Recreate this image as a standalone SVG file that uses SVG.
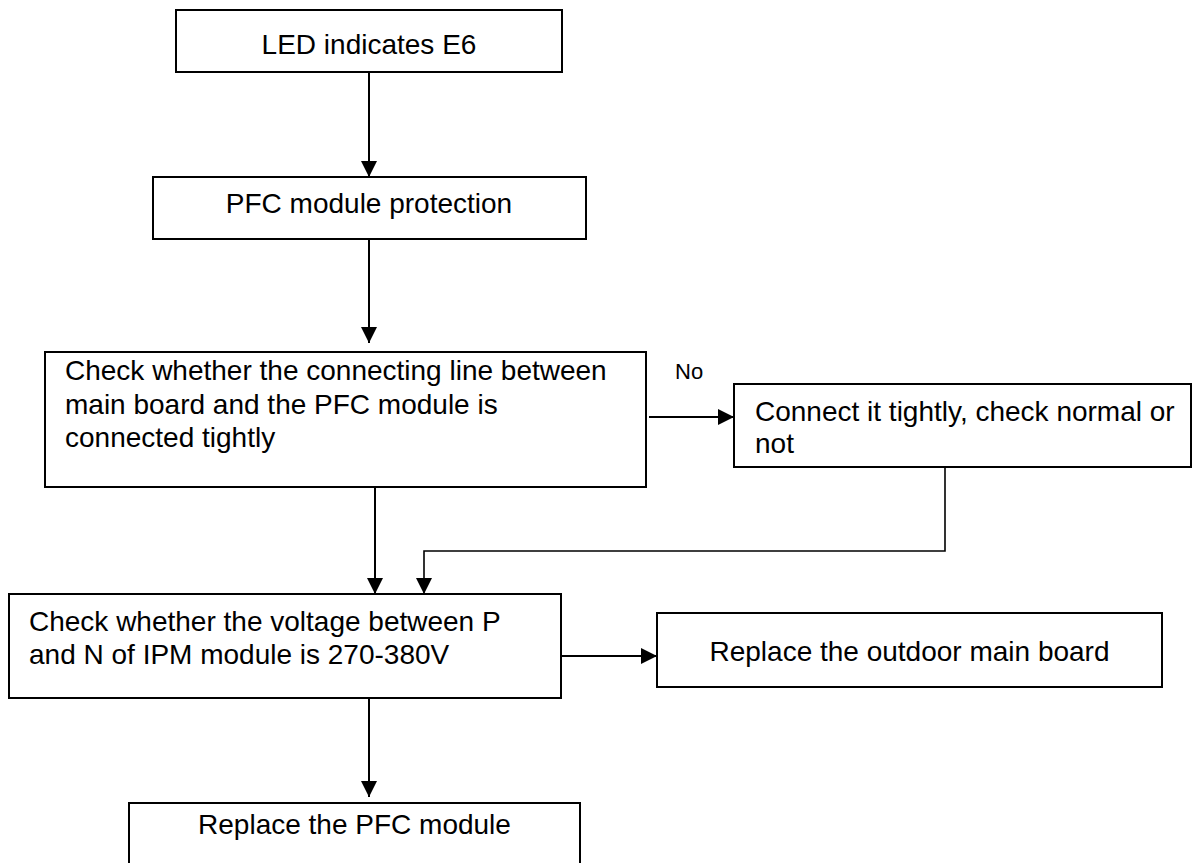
<svg xmlns="http://www.w3.org/2000/svg" width="1192" height="863" viewBox="0 0 1192 863">
  <style>
    .box { fill: #ffffff; stroke: #000000; stroke-width: 2; }
    .t { font-family: "Liberation Sans", Arial, sans-serif; font-size: 28px; fill: #000000; }
    .c { text-anchor: middle; }
    .lbl { font-family: "Liberation Sans", Arial, sans-serif; font-size: 22px; fill: #000000; }
    .ln { fill: none; stroke: #000000; stroke-width: 2; }
    .thin { fill: none; stroke: #000000; stroke-width: 1.6; }
  </style>
  <defs>
    <marker id="ah" viewBox="0 0 16 16" refX="16" refY="8" markerWidth="16" markerHeight="16" markerUnits="userSpaceOnUse" orient="auto">
      <path d="M0,0 L16,8 L0,16 Z" fill="#000000"/>
    </marker>
  </defs>
  <rect width="1192" height="863" fill="#ffffff"/>

  <g id="n1">
    <rect class="box" x="176" y="10" width="386" height="62"/>
    <text class="t c" x="369" y="54">LED indicates E6</text>
  </g>
  <g id="n2">
    <rect class="box" x="153" y="177" width="433" height="62"/>
    <text class="t c" x="369" y="213">PFC module protection</text>
  </g>
  <g id="n3">
    <rect class="box" x="45" y="352" width="601" height="135"/>
    <text class="t" x="65" y="380">Check whether the connecting line between</text>
    <text class="t" x="65" y="414">main board and the PFC module is</text>
    <text class="t" x="65" y="447">connected tightly</text>
  </g>
  <g id="n4">
    <rect class="box" x="734" y="384" width="457" height="83"/>
    <text class="t" x="755" y="421">Connect it tightly, check normal or</text>
    <text class="t" x="755" y="453">not</text>
  </g>
  <g id="n5">
    <rect class="box" x="9" y="594" width="552" height="104"/>
    <text class="t" x="29" y="631">Check whether the voltage between P</text>
    <text class="t" x="29" y="664">and N of IPM module is 270-380V</text>
  </g>
  <g id="n6">
    <rect class="box" x="657" y="613" width="505" height="74"/>
    <text class="t c" x="909.5" y="661">Replace the outdoor main board</text>
  </g>
  <g id="n7">
    <rect class="box" x="129" y="803" width="451" height="80"/>
    <text class="t c" x="354.5" y="834">Replace the PFC module</text>
  </g>

  <g id="connectors">
    <line class="ln" x1="369" y1="72" x2="369" y2="177" marker-end="url(#ah)"/>
    <line class="ln" x1="369" y1="239" x2="369" y2="343" marker-end="url(#ah)"/>
    <line class="ln" x1="649" y1="417" x2="734" y2="417" marker-end="url(#ah)"/>
    <text class="lbl" x="675" y="379">No</text>
    <line class="ln" x1="375" y1="487" x2="375" y2="594" marker-end="url(#ah)"/>
    <polyline class="thin" points="945,467 945,551 424,551 424,594" marker-end="url(#ah)"/>
    <line class="ln" x1="561" y1="656" x2="657" y2="656" marker-end="url(#ah)"/>
    <line class="ln" x1="369" y1="698" x2="369" y2="797" marker-end="url(#ah)"/>
  </g>
</svg>
